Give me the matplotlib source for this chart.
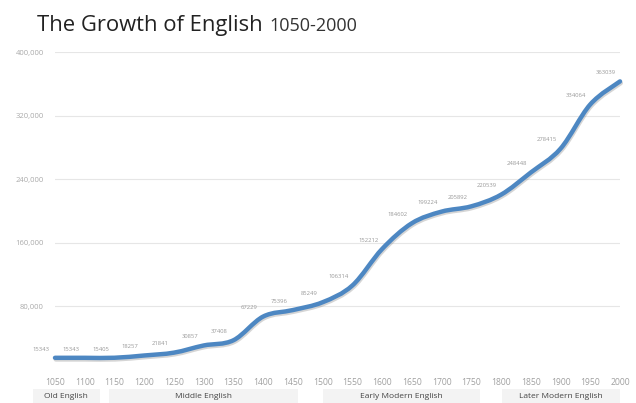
import numpy as np
import matplotlib
matplotlib.use('Agg')
import matplotlib.pyplot as plt
from matplotlib.path import Path
from matplotlib.patches import PathPatch, Rectangle
import matplotlib.patheffects as pe

years = [1050, 1100, 1150, 1200, 1250, 1300, 1350, 1400, 1450, 1500,
         1550, 1600, 1650, 1700, 1750, 1800, 1850, 1900, 1950, 2000]
words = [15343, 15343, 15405, 18257, 21841, 30857, 37408, 67229, 75396, 85249,
         106314, 152212, 184602, 199224, 205892, 220539, 248448, 278415, 334064, 363039]

periods = ['Old English', 'Middle English', 'Early Modern English', 'Later Modern English']
period_start = [1013, 1140, 1500, 1802]
period_end = [1125, 1458, 1765, 2000]

y_ticks = [80000, 160000, 240000, 320000, 400000]

LINE = '#4d87c2'
plt.rcParams['font.family'] = ['Open Sans', 'DejaVu Sans']

fig = plt.figure(figsize=(6.36, 4.03), dpi=100)
fig.patch.set_facecolor('white')
ax = fig.add_axes([55 / 636, 33 / 403, 565 / 636, 318 / 403])
ax.set_xlim(1050, 2000)
ax.set_ylim(0, 400000)

for s in ax.spines.values():
    s.set_visible(False)
ax.set_yticks(y_ticks)
ax.set_yticklabels(['{:,}'.format(v) for v in y_ticks])
ax.set_xticks(years)
ax.tick_params(axis='y', length=0, pad=8, labelsize=5.5, labelcolor='#aaaaaa')
ax.tick_params(axis='x', length=0, pad=6, labelsize=6.2, labelcolor='#a0a0a0')
ax.grid(axis='y', color='#e6e6e6', linewidth=0.8)
ax.set_axisbelow(True)

# smooth curve through the points (Catmull-Rom -> cubic bezier)
pts = np.column_stack([years, words]).astype(float)
verts = [pts[0]]
codes = [Path.MOVETO]
for i in range(len(pts) - 1):
    p0 = pts[i - 1] if i > 0 else pts[i]
    p1 = pts[i]
    p2 = pts[i + 1]
    p3 = pts[i + 2] if i + 2 < len(pts) else pts[i + 1]
    c1 = p1 + (p2 - p0) / 6.0
    c2 = p2 - (p3 - p1) / 6.0
    verts += [c1, c2, p2]
    codes += [Path.CURVE4] * 3
curve = PathPatch(Path(verts, codes), facecolor='none', edgecolor=LINE,
                  linewidth=3.2, capstyle='round', joinstyle='round', clip_on=False,
                  path_effects=[pe.SimpleLineShadow(offset=(0.6, -1.2), shadow_color='#888888', alpha=0.35),
                                pe.Normal()])
ax.add_patch(curve)

for x, y in zip(years, words):
    ax.annotate(str(y), (x, y), xytext=(-10, 4.5), textcoords='offset points',
                ha='center', va='bottom', fontsize=4.2, color='#999999')

# period bands under the axis
for name, a, b in zip(periods, period_start, period_end):
    ax.add_patch(Rectangle((a, -0.105), b - a, 0.045, transform=ax.get_xaxis_transform(),
                           facecolor='#f3f3f3', edgecolor='none', clip_on=False))
    ax.text((a + b) / 2, -0.083, name, transform=ax.get_xaxis_transform(),
            ha='center', va='center', fontsize=6.0, color='#444444')

t1 = fig.text(37 / 636, 1 - 31 / 403, 'The Growth of English', fontsize=15.8, color='#222222',
              va='baseline')
r = fig.canvas.get_renderer()
bb = t1.get_window_extent(r)
fig.text((bb.x1 + 7) / 636, 1 - 31 / 403, '1050-2000', fontsize=13, color='#333333',
         va='baseline')

fig.savefig('out.png', dpi=100, facecolor='white')
